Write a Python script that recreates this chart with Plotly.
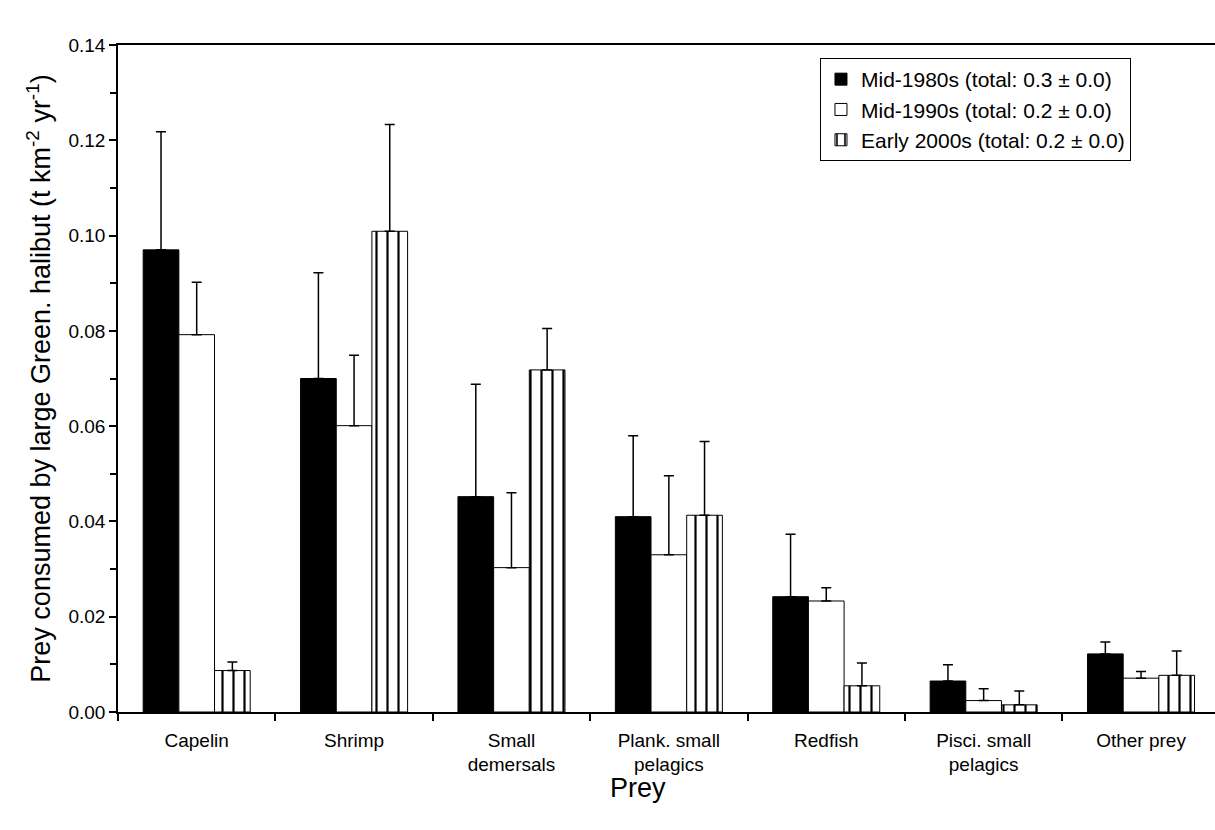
import plotly.graph_objects as go

# Prey groups on the x axis
prey = ["Capelin", "Shrimp", "Small<br>demersals", "Plank. small<br>pelagics",
        "Redfish", "Pisci. small<br>pelagics", "Other prey"]

# Consumption estimates (t km-2 yr-1) per period
mid_1980s = [0.0970, 0.0700, 0.0452, 0.0410, 0.0242, 0.0065, 0.0122]
mid_1990s = [0.0792, 0.0601, 0.0303, 0.0330, 0.0233, 0.0024, 0.0071]
early_2000s = [0.0087, 0.1009, 0.0718, 0.0413, 0.0055, 0.0015, 0.0077]

# Upper error (SD) above each bar
err_1980s = [0.0248, 0.0222, 0.0236, 0.0170, 0.0131, 0.0034, 0.0025]
err_1990s = [0.0110, 0.0148, 0.0157, 0.0166, 0.0028, 0.0025, 0.0014]
err_2000s = [0.0018, 0.0224, 0.0087, 0.0155, 0.0048, 0.0029, 0.0051]

legend_names = ["Mid-1980s (total: 0.3 \u00b1 0.0)",
                "Mid-1990s (total: 0.2 \u00b1 0.0)",
                "Early 2000s (total: 0.2 \u00b1 0.0)"]

FONT = "Liberation Sans, Arial, sans-serif"


def err(vals):
    return dict(type="data", array=vals, arrayminus=[0] * len(vals), symmetric=False,
                color="black", thickness=1.5, width=5)


fig = go.Figure()
fig.add_trace(go.Bar(
    x=prey, y=mid_1980s, name=legend_names[0], error_y=err(err_1980s),
    marker=dict(color="black", line=dict(color="black", width=1)),
))
fig.add_trace(go.Bar(
    x=prey, y=mid_1990s, name=legend_names[1], error_y=err(err_1990s),
    marker=dict(color="white", line=dict(color="black", width=1)),
))
fig.add_trace(go.Bar(
    x=prey, y=early_2000s, name=legend_names[2], error_y=err(err_2000s),
    marker=dict(color="white", line=dict(color="black", width=1),
                pattern=dict(shape="|", fgcolor="black", bgcolor="white",
                             size=11, solidity=0.2, fgopacity=1)),
))

fig.update_layout(
    width=1215, height=830,
    margin=dict(l=118, r=0, t=45, b=118),
    paper_bgcolor="white", plot_bgcolor="white",
    barmode="group", bargap=0.32, bargroupgap=0,
    font=dict(family=FONT, size=19, color="black"),
    showlegend=True,
    legend=dict(
        x=0.9234, y=0.9805, xanchor="right", yanchor="top",
        bordercolor="black", borderwidth=1, bgcolor="white",
        font=dict(family=FONT, size=21, color="black"),
        traceorder="normal", itemwidth=30,
    ),
    # x-axis title, set slightly left of the plot centre
    annotations=[dict(
        text="Prey", xref="paper", yref="paper", x=0.474, y=-0.114,
        xanchor="center", yanchor="middle", showarrow=False,
        font=dict(family=FONT, size=27, color="black"),
    )],
)

fig.update_xaxes(
    type="category", range=[-0.5, 6.47],
    showline=True, linecolor="black", linewidth=1.5, mirror=True,
    ticks="outside", tickson="boundaries", ticklen=7, tickcolor="black", tickwidth=1.5,
    ticklabelstandoff=10,
    showgrid=False, zeroline=False,
    tickfont=dict(family=FONT, size=19, color="black"),
)

fig.update_yaxes(
    range=[0, 0.14], dtick=0.02, tickformat=".2f",
    showline=True, linecolor="black", linewidth=1.5,
    ticks="outside", ticklen=7, tickcolor="black", tickwidth=1.5,
    minor=dict(dtick=0.01, ticks="outside", ticklen=6, tickcolor="black", tickwidth=1.5),
    showgrid=False, zeroline=False,
    tickfont=dict(family=FONT, size=19, color="black"),
    title=dict(text="Prey consumed by large Green. halibut (t km<sup>-2</sup> yr<sup>-1</sup>)",
               font=dict(family=FONT, size=27, color="black"), standoff=10),
)

fig.write_html("out.html")
